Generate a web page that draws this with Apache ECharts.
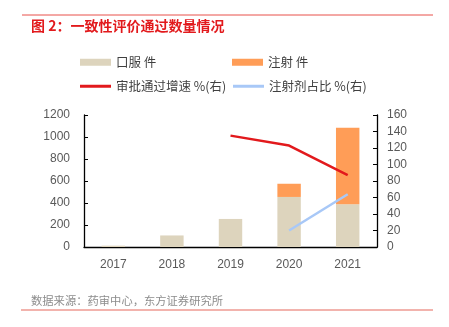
<!DOCTYPE html>
<html><head><meta charset="utf-8">
<script src="https://cdn.jsdelivr.net/npm/echarts@6/dist/echarts.min.js"></script>
<style>html,body{margin:0;padding:0;background:#fff}#c{width:449px;height:327px}</style>
</head><body><div id="c"></div>
<script>
const categories = ['2017','2018','2019','2020','2021'];
const oral = [12, 105, 255, 455, 388];
const injection = [0, 0, 0, 120, 697];
const approvalGrowth = [null, null, 135, 123, 87];
const injectionShare = [null, null, null, 20, 64];
const leftTicks = [0, 200, 400, 600, 800, 1000, 1200];
const rightTicks = [0, 20, 40, 60, 80, 100, 120, 140, 160];

const F = 'Liberation Sans, Noto Sans CJK SC, sans-serif';
const chart = echarts.init(document.getElementById('c'), null, {renderer:'canvas'});
const legText = {color:'#404040', fontSize:12.5, fontFamily:'Noto Sans CJK SC, sans-serif'};
function leg(name, left, top, icon){
  return {data:[name], left:left, top:top, itemWidth:31, itemHeight: icon==='rect'?7:3, icon:'rect', textStyle:legText, itemGap:0, padding:0};
}
chart.setOption({
  animation:false,
  legend:[
    leg('口服 件', 80, 56, 'rect'),
    leg('注射 件', 232, 56, 'rect'),
    leg('审批通过增速 %(右)', 80, 80, 'line'),
    leg('注射剂占比 %(右)', 233, 80, 'line')
  ],
  grid:{left:84, right:72, top:115, bottom:80},
  xAxis:{type:'category', data:categories,
    axisLine:{lineStyle:{color:'#000', width:1.3}},
    axisTick:{inside:true, length:4, lineStyle:{color:'#000'}},
    axisLabel:{color:'#595959', fontSize:12, fontFamily:F, margin:12}},
  yAxis:[
    {type:'value', min:leftTicks[0], max:leftTicks[leftTicks.length-1], interval:200,
     axisLine:{show:true, lineStyle:{color:'#000', width:1.3}},
     axisTick:{show:true, inside:true, length:4, lineStyle:{color:'#000'}},
     splitLine:{show:false},
     axisLabel:{color:'#595959', fontSize:12, fontFamily:F, margin:14, formatter:v=>String(v)}},
    {type:'value', min:rightTicks[0], max:rightTicks[rightTicks.length-1], interval:20,
     axisLine:{show:true, lineStyle:{color:'#000', width:1.3}},
     axisTick:{show:true, inside:true, length:4, lineStyle:{color:'#000'}},
     splitLine:{show:false},
     axisLabel:{color:'#595959', fontSize:12, fontFamily:F, margin:10, formatter:v=>String(v)}}
  ],
  series:[
    {name:'口服 件', type:'bar', stack:'a', data:oral, barWidth:'40%', itemStyle:{color:'#DDD4BD'}},
    {name:'注射 件', type:'bar', stack:'a', data:injection, barWidth:'40%', itemStyle:{color:'#FF9D57'}},
    {name:'审批通过增速 %(右)', type:'line', yAxisIndex:1, data:approvalGrowth, symbol:'none', lineStyle:{color:'#E2191C', width:2.5}, itemStyle:{color:'#E2191C'}},
    {name:'注射剂占比 %(右)', type:'line', yAxisIndex:1, data:injectionShare, symbol:'none', lineStyle:{color:'#A8C8F7', width:2.5}, itemStyle:{color:'#A8C8F7'}}
  ],
  graphic:[
    {type:'line', shape:{x1:22,y1:15,x2:433,y2:15}, style:{stroke:'#E8504A', lineWidth:1}},
    {type:'text', left:31, top:19, style:{text:'图 2：一致性评价通过数量情况', fill:'#E2191C', font:'bold 14px "Noto Sans CJK SC", sans-serif'}},
    {type:'text', left:31, top:295, style:{text:'数据来源：药审中心，东方证券研究所', fill:'#8C8C8C', font:'11.3px "Noto Sans CJK SC", sans-serif'}},
    {type:'line', shape:{x1:21,y1:310,x2:433,y2:310}, style:{stroke:'#EE9A92', lineWidth:1.5}}
  ]
});
</script></body></html>
